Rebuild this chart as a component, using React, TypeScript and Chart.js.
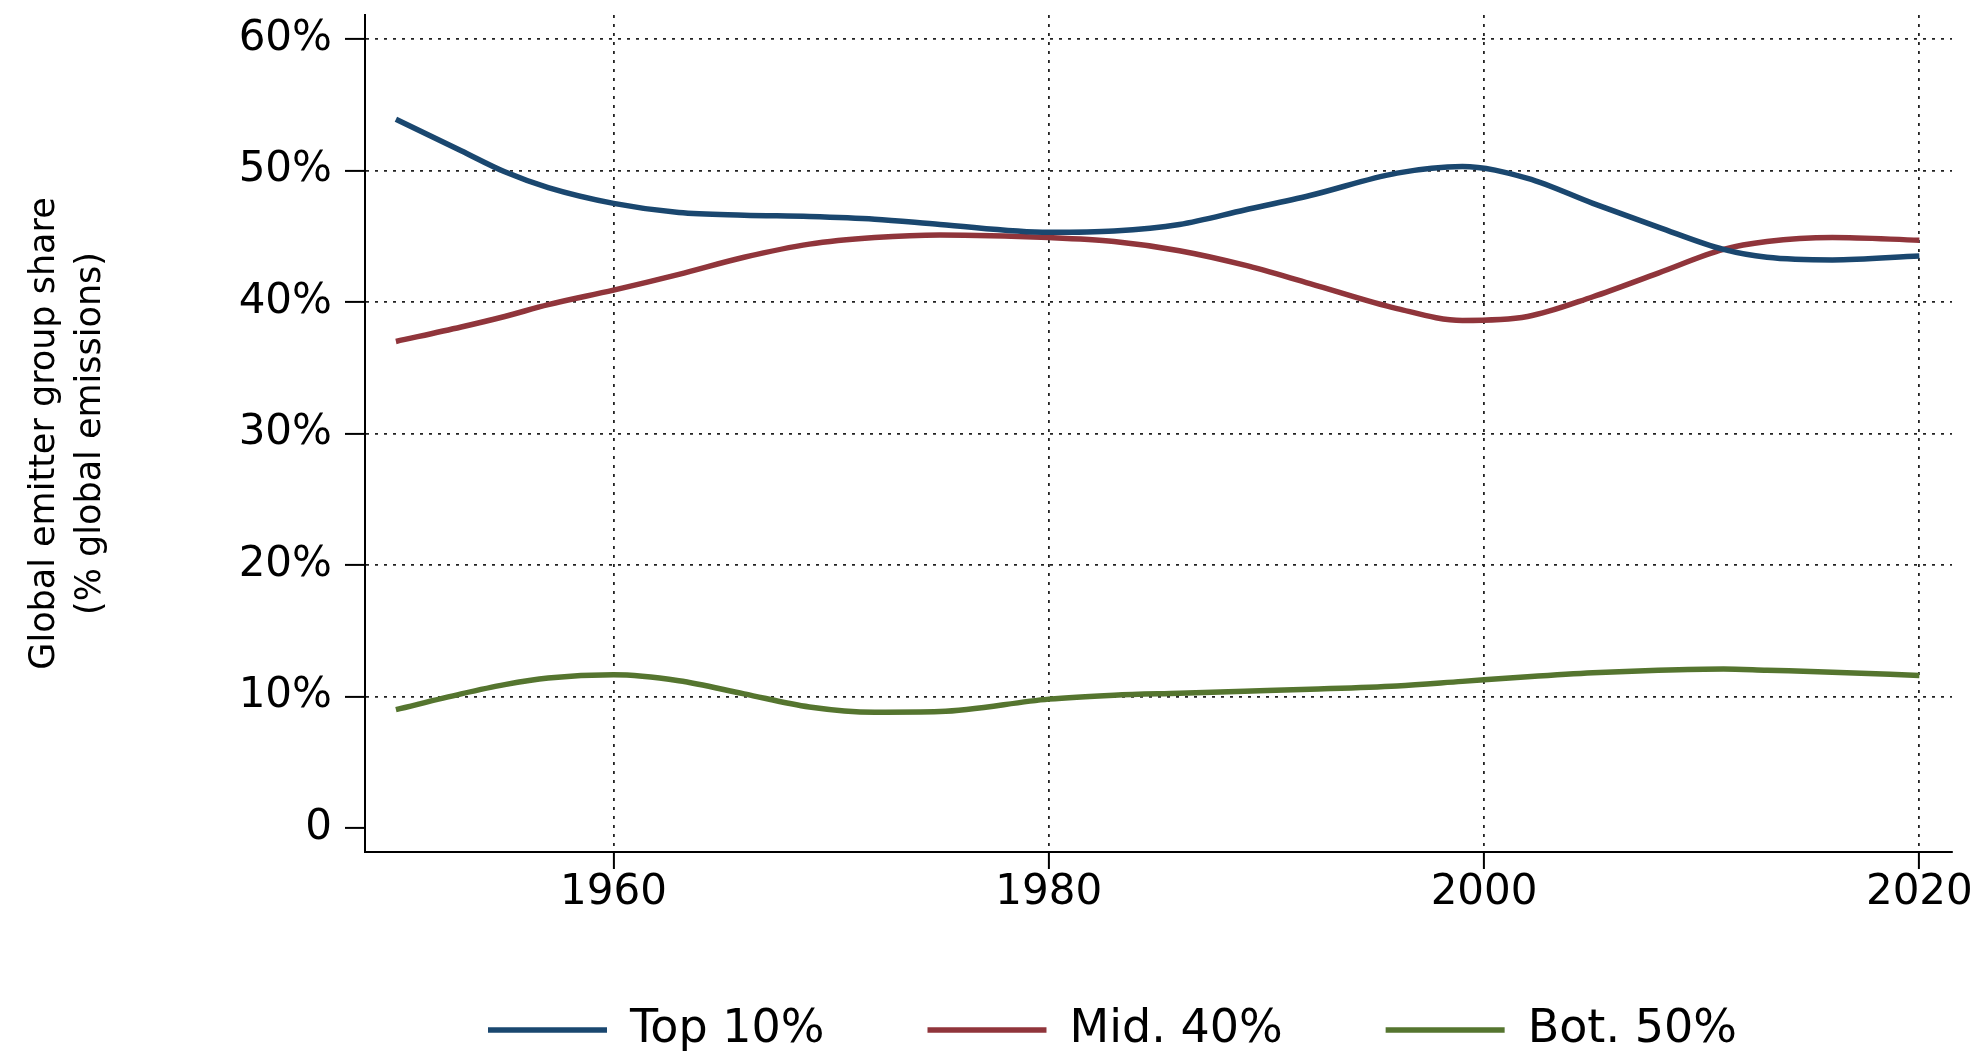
import React, { useEffect, useRef } from "react";
import { Chart, registerables } from "chart.js";

Chart.register(...registerables);

// ---- data ----
const years = [1950, 1953, 1955, 1957, 1960, 1963, 1966, 1969, 1972, 1975, 1980, 1983, 1986, 1989, 1992, 1996, 1999, 2002, 2005, 2008, 2011, 2013, 2016, 2020];
const top10 = [53.9, 51.5, 49.9, 48.7, 47.5, 46.8, 46.6, 46.5, 46.3, 45.9, 45.3, 45.4, 45.9, 47.0, 48.1, 49.8, 50.3, 49.4, 47.5, 45.7, 44.0, 43.4, 43.2, 43.5];
const mid40 = [37.0, 38.1, 38.9, 39.8, 40.9, 42.1, 43.4, 44.4, 44.9, 45.1, 44.9, 44.6, 43.9, 42.8, 41.4, 39.5, 38.6, 38.9, 40.4, 42.2, 44.0, 44.6, 44.9, 44.7];
const bot50 = [9.0, 10.2, 10.9, 11.4, 11.65, 11.2, 10.2, 9.2, 8.8, 8.85, 9.8, 10.1, 10.25, 10.4, 10.55, 10.8, 11.15, 11.5, 11.8, 12.0, 12.1, 12.0, 11.85, 11.6];
const seriesLabels = ["Top 10%", "Mid. 40%", "Bot. 50%"];
const seriesColors = ["#1a476f", "#90353b", "#55752f"];
const xTicks = [1960, 1980, 2000, 2020];
const yTicks = [0, 10, 20, 30, 40, 50, 60];
const yTitle = ["Global emitter group share", "(% global emissions)"];

const FONT = "DejaVu Sans";
const LEGEND_TOP = 904;
const LEGEND_DX = 20;

// places the legend box (Chart.js ties its vertical offset to the horizontal item padding)
const legendPlacer = {
  id: "legendPlacer",
  afterLayout(chart: any) {
    const lg = chart.legend;
    if (!lg) return;
    lg.top = LEGEND_TOP;
    lg.height = lg.bottom - lg.top;
    lg.left += LEGEND_DX;
    lg.right += LEGEND_DX;
  },
};

export default function App() {
  const ref = useRef<HTMLCanvasElement | null>(null);

  useEffect(() => {
    document.body.style.margin = "0";
    const canvas = ref.current;
    if (!canvas) return;
    const series = [top10, mid40, bot50];
    const chart = new Chart(canvas, {
      type: "line",
      data: {
        datasets: series.map((vals, i) => ({
          label: seriesLabels[i],
          data: years.map((yr, j) => ({ x: yr, y: vals[j] })),
          borderColor: seriesColors[i],
          backgroundColor: seriesColors[i],
          borderWidth: 5.5,
          pointRadius: 0,
          pointHoverRadius: 0,
          cubicInterpolationMode: "monotone",
          pointStyle: "line",
          fill: false,
        })),
      },
      plugins: [legendPlacer],
      options: {
        animation: false,
        responsive: false,
        events: [],
        layout: { padding: { top: 15, right: 31, bottom: 0, left: 0 } },
        plugins: {
          tooltip: { enabled: false },
          legend: {
            display: true,
            position: "bottom",
            align: "start",
            fullSize: false,
            maxHeight: 137,
            labels: {
              usePointStyle: true,
              pointStyle: "line",
              pointStyleWidth: 119,
              padding: 103,
              color: "#000",
              font: { family: FONT, size: 46 },
            },
          },
        },
        scales: {
          x: {
            type: "linear",
            min: 1948.58,
            max: 2021.5,
            afterBuildTicks: (s: any) => {
              s.ticks = xTicks.map((v) => ({ value: v }));
            },
            afterFit: (s: any) => {
              s.height = 62;
              s.paddingLeft = 0;
              s.paddingRight = 0;
            },
            ticks: {
              autoSkip: false,
              maxRotation: 0,
              padding: 3,
              color: "#000",
              font: { family: FONT, size: 42, lineHeight: 1.0 },
              callback: (v: any) => String(v),
            },
            grid: {
              color: "#222",
              lineWidth: 1.8,
              tickLength: 17,
              tickColor: "#000",
              tickWidth: 2,
              tickBorderDash: [],
            },
            border: { display: true, color: "#000", width: 2, dash: [3, 6] },
          },
          y: {
            type: "linear",
            min: -1.825,
            max: 61.825,
            afterBuildTicks: (s: any) => {
              s.ticks = yTicks.map((v) => ({ value: v }));
            },
            afterFit: (s: any) => {
              s.width = 365;
              s.paddingTop = 0;
              s.paddingBottom = 0;
            },
            ticks: {
              padding: 13,
              color: "#000",
              font: { family: FONT, size: 42 },
              callback: (v: any) => (v === 0 ? "0" : v + "%"),
            },
            grid: {
              color: (ctx: any) => (ctx.tick && ctx.tick.value === 0 ? "rgba(0,0,0,0)" : "#222"),
              lineWidth: 1.8,
              tickLength: 20,
              tickColor: "#000",
              tickWidth: 2,
              tickBorderDash: [],
            },
            border: { display: true, color: "#000", width: 2, dash: [3, 6] },
            title: {
              display: true,
              text: yTitle,
              color: "#000",
              font: { family: FONT, size: 35, lineHeight: 1.34 },
              padding: { top: 21, bottom: 0 },
            },
          },
        },
      },
    } as any);
    return () => chart.destroy();
  }, []);

  return (
    <div style={{ position: "absolute", left: 0, top: 0, width: 1983, height: 1051, background: "#fff" }}>
      <canvas ref={ref} width={1983} height={1051} style={{ display: "block", width: 1983, height: 1051 }} />
    </div>
  );
}
